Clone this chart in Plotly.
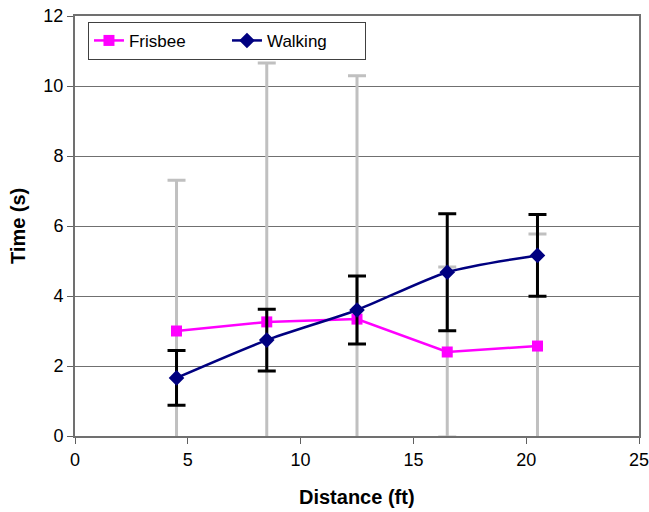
import plotly.graph_objects as go

distance = [4.5, 8.5, 12.5, 16.5, 20.5]

frisbee_time = [3.0, 3.26, 3.34, 2.4, 2.57]
frisbee_err = [4.31, 7.4, 6.95, 2.43, 3.2]

walking_time = [1.66, 2.74, 3.6, 4.68, 5.16]
walking_err = [0.78, 0.88, 0.97, 1.67, 1.17]

x_ticks = [0, 5, 10, 15, 20, 25]
y_ticks = [0, 2, 4, 6, 8, 10, 12]

font_family = "Liberation Sans, Arial, sans-serif"

fig = go.Figure()

fig.add_trace(go.Scatter(
    x=distance, y=frisbee_time, name="Frisbee", mode="lines+markers",
    line=dict(color="#FF00FF", width=2.5),
    marker=dict(symbol="square", size=11, color="#FF00FF"),
    error_y=dict(type="data", array=frisbee_err, visible=True,
                 color="#C0C0C0", thickness=3, width=9),
))

fig.add_trace(go.Scatter(
    x=distance, y=walking_time, name="Walking", mode="lines+markers",
    line=dict(color="#000080", width=2.5, shape="spline", smoothing=0.7),
    marker=dict(symbol="diamond", size=12, color="#000080"),
    error_y=dict(type="data", array=walking_err, visible=True,
                 color="#000000", thickness=3, width=9),
))

fig.update_layout(
    width=649, height=512,
    margin=dict(l=75, r=10, t=16, b=76),
    paper_bgcolor="white", plot_bgcolor="white",
    font=dict(family=font_family, size=18, color="black"),
    showlegend=True,
    legend=dict(
        orientation="h", x=0.023, y=0.986, xanchor="left", yanchor="top",
        bgcolor="white", bordercolor="#404040", borderwidth=1,
        font=dict(size=17), entrywidth=93, entrywidthmode="pixels",
    ),
    xaxis=dict(
        range=[0, 25], tickvals=x_ticks, ticks="outside", ticklen=6,
        tickcolor="#606060", showgrid=False, zeroline=False,
        showline=True, linecolor="#707070", linewidth=2, mirror=True,
        tickfont=dict(size=18), automargin=False, ticklabeloverflow="allow",
    ),
    yaxis=dict(
        range=[0, 12], tickvals=y_ticks, ticks="outside", ticklen=6,
        tickcolor="#606060", showgrid=True, gridcolor="#707070", gridwidth=1,
        zeroline=False, showline=True, linecolor="#707070", linewidth=2,
        mirror=True, tickfont=dict(size=18), automargin=False,
        ticklabeloverflow="allow",
    ),
    annotations=[
        dict(text="<b>Distance (ft)</b>", xref="paper", yref="paper",
             x=0.5, y=-0.145, xanchor="center", yanchor="middle",
             showarrow=False, font=dict(size=20)),
        dict(text="<b>Time (s)</b>", xref="paper", yref="paper",
             x=-0.101, y=0.5, xanchor="center", yanchor="middle",
             textangle=-90, showarrow=False, font=dict(size=20)),
    ],
)

# drop the default page margin so the figure fills the window
fig.write_html(
    "out.html",
    config={"displayModeBar": False},
    post_script="document.body.style.margin='0';document.body.style.overflow='hidden';",
)
